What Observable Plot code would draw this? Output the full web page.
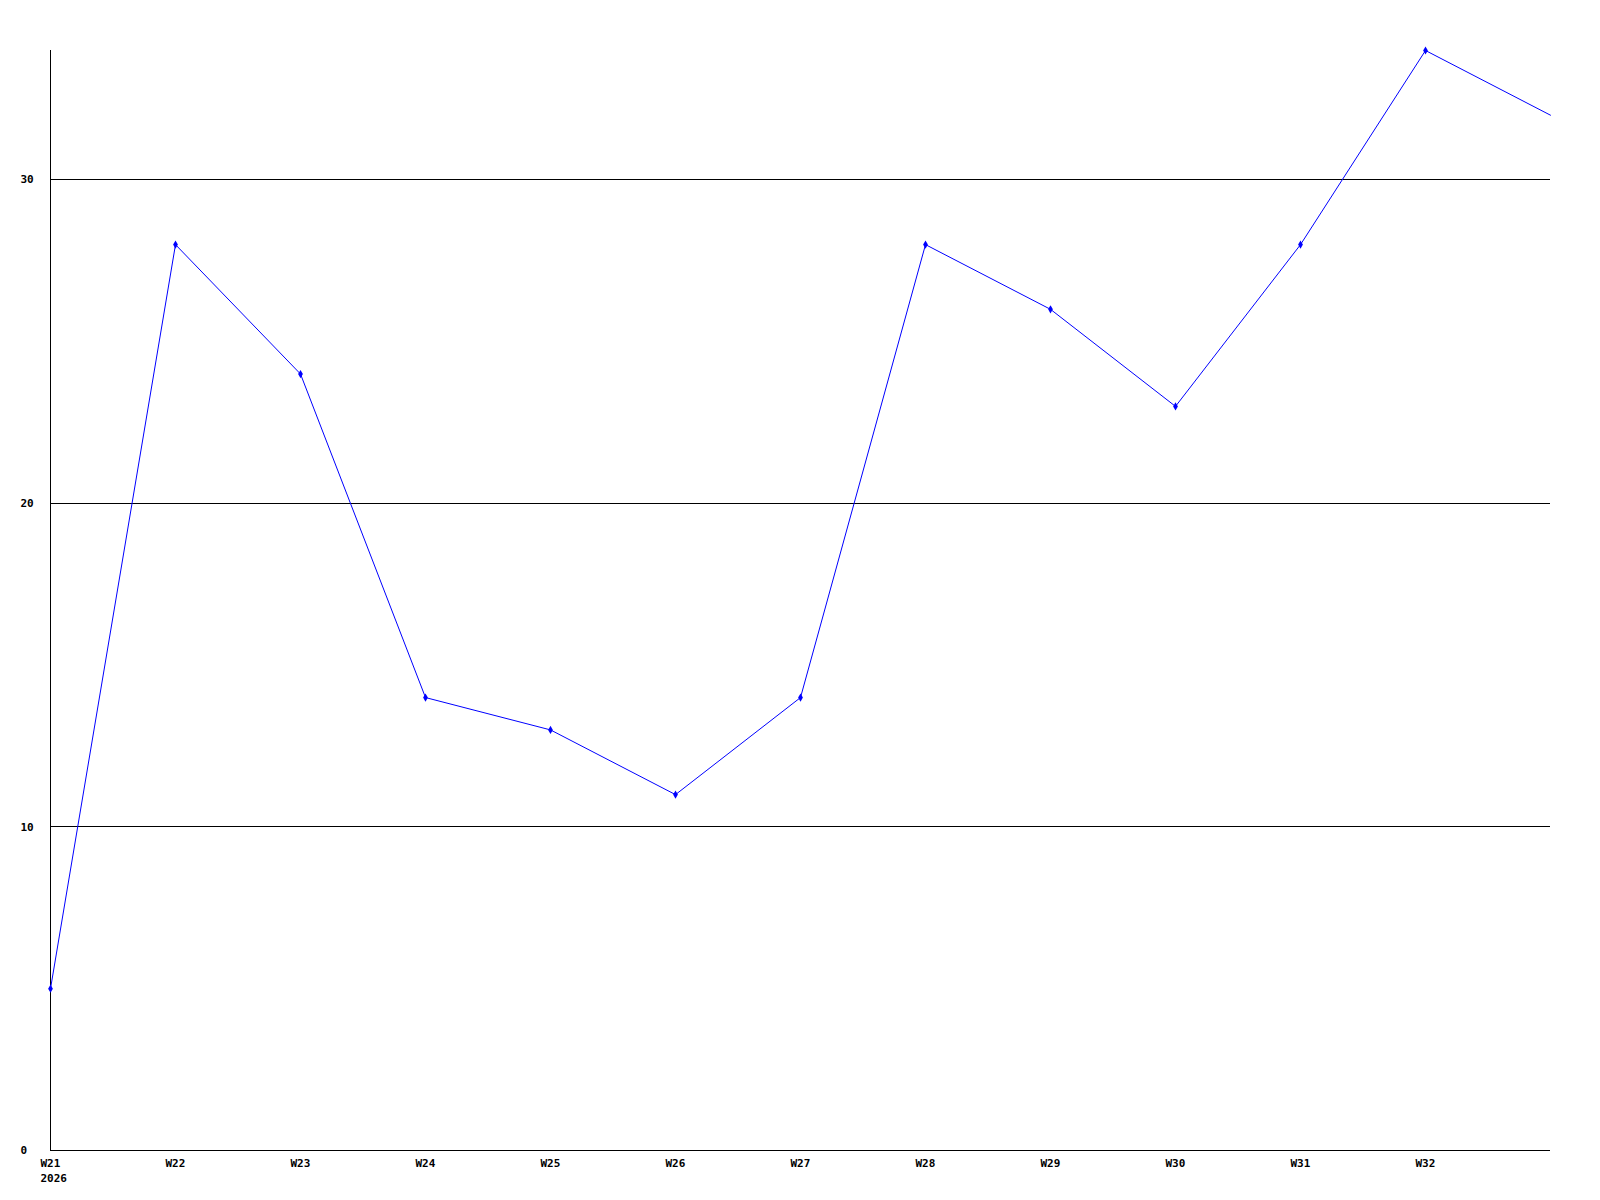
<!DOCTYPE html>
<html>
<head>
<meta charset="utf-8">
<script src="https://cdn.jsdelivr.net/npm/d3@7"></script>
<script src="https://cdn.jsdelivr.net/npm/@observablehq/plot@0.6"></script>
<style>
  html, body { margin: 0; padding: 0; background: #fff; }
  svg { display: block; }
</style>
</head>
<body>
<div id="chart"></div>
<script>
const weeks = [21, 22, 23, 24, 25, 26, 27, 28, 29, 30, 31, 32, 33];
const values = [5, 28, 24, 14, 13, 11, 14, 28, 26, 23, 28, 34, 32];
const xTicks = [21, 22, 23, 24, 25, 26, 27, 28, 29, 30, 31, 32];
const yTicks = [0, 10, 20, 30];
const gridLines = [10, 20, 30];
const year = "2026";

const data = weeks.map((w, i) => ({ week: w, value: values[i] }));

const chart = Plot.plot({
  width: 1600,
  height: 1200,
  marginLeft: 50,
  marginRight: 50,
  marginTop: 50,
  marginBottom: 50,
  style: { fontFamily: "DejaVu Sans Mono", fontSize: "11px", fontWeight: "bold", background: "#fff" },
  x: { domain: [21, 33], axis: null, label: null },
  y: { domain: [0, 34], axis: null, label: null },
  marks: [
    Plot.ruleY(gridLines, { stroke: "#000", strokeWidth: 1, shapeRendering: "crispEdges" }),
    Plot.ruleY([0], { stroke: "#000", strokeWidth: 1, shapeRendering: "crispEdges" }),
    Plot.ruleX([21], { stroke: "#000", strokeWidth: 1, shapeRendering: "crispEdges" }),
    Plot.axisY({ ticks: yTicks, tickSize: 0, tickPadding: 30, textAnchor: "start", fill: "#000", fontWeight: "bold", label: null }),
    Plot.axisX({ ticks: xTicks, tickSize: 0, tickPadding: 6, lineHeight: 1.36, textAnchor: "start", dx: -10, label: null,
      tickFormat: d => d === 21 ? `W${d}\n${year}` : `W${d}`, fill: "#000", fontWeight: "bold" }),
    Plot.line(data, { x: "week", y: "value", stroke: "#0000ff", strokeWidth: 1 }),
    Plot.dot(data.filter(d => d.week <= 32), { x: "week", y: "value", symbol: "diamond", r: 2.5, fill: "#0000ff", stroke: "none" })
  ]
});
document.getElementById("chart").appendChild(chart);
</script>
</body>
</html>
